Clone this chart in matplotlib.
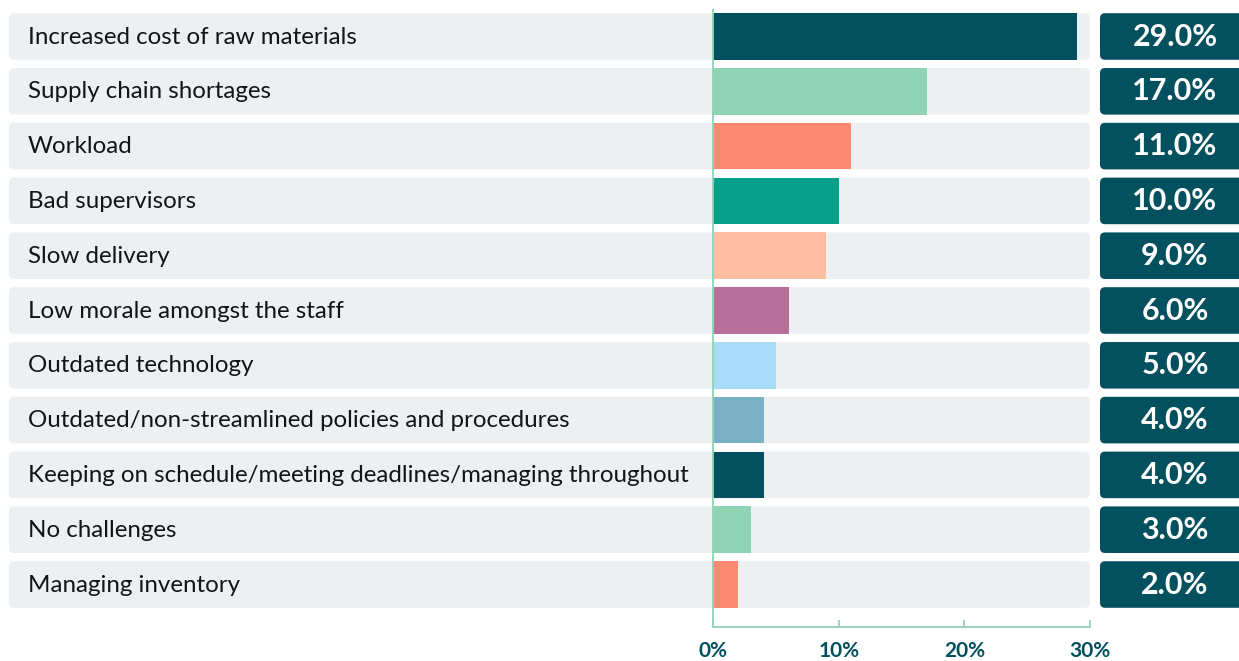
import matplotlib
matplotlib.use("Agg")
import matplotlib.pyplot as plt
from matplotlib.patches import FancyBboxPatch

categories = [
    "Increased cost of raw materials",
    "Supply chain shortages",
    "Workload",
    "Bad supervisors",
    "Slow delivery",
    "Low morale amongst the staff",
    "Outdated technology",
    "Outdated/non-streamlined policies and procedures",
    "Keeping on schedule/meeting deadlines/managing throughout",
    "No challenges",
    "Managing inventory",
]
values = [29.0, 17.0, 11.0, 10.0, 9.0, 6.0, 5.0, 4.0, 4.0, 3.0, 2.0]
bar_colors = ["#03505f", "#91d3b5", "#ff8a72", "#07a08a", "#ffbfa0", "#b56f98",
              "#a8dcf8", "#7cb0c6", "#03505f", "#91d3b5", "#ff8a72"]
xticks = [0, 10, 20, 30]
xticklabels = ["0%", "10%", "20%", "30%"]

DARK = "#03505f"
MINT = "#91d3b5"
ROW_BG = "#edf0f3"

W, H = 1239, 661
px_per_unit = (1090 - 713.3) / 30
row_px = 54.8
row_top = 36.5

fig = plt.figure(figsize=(W / 100, H / 100), dpi=100)
ax = fig.add_axes([0, 0, 1, 1])
ax.set_xlim(-713.3 / px_per_unit, (W - 713.3) / px_per_unit)
ax.set_ylim((H - row_top) / row_px, -row_top / row_px)

bar_h = 0.85
# aspect to keep rounded corners circular
asp = px_per_unit / row_px
rad = 5 / px_per_unit
bg_left = (9 - 713.3) / px_per_unit
box_left = (1100 - 713.3) / px_per_unit
box_mid = (1175 - 713.3) / px_per_unit
label_x = (28 - 713.3) / px_per_unit

for i, (cat, val) in enumerate(zip(categories, values)):
    ax.add_patch(FancyBboxPatch((bg_left, i - bar_h / 2), 30 - bg_left, bar_h,
                                boxstyle=f"round,pad=0,rounding_size={rad}",
                                mutation_aspect=asp, fc=ROW_BG, ec="none", zorder=0))
    ax.add_patch(FancyBboxPatch((box_left, i - bar_h / 2), 20, bar_h,
                                boxstyle=f"round,pad=0,rounding_size={rad}",
                                mutation_aspect=asp, fc=DARK, ec="none", zorder=0))
    ax.text(label_x, i + 0.01, cat, ha="left", va="center", fontsize=17.4,
            family="Lato", color="#141414")
    ax.text(box_mid, i + 0.0, f"{val:.1f}%", ha="center", va="center",
            fontsize=22, family="Lato", fontweight="bold", color="white")

ax.barh(range(len(values)), values, height=bar_h, color=bar_colors, zorder=2)

axis_y = (627 - row_top) / row_px
ax.vlines(0, (9 - row_top) / row_px, axis_y, color=MINT, lw=1.3, zorder=3)

for s in ["top", "right", "left"]:
    ax.spines[s].set_visible(False)
ax.spines["bottom"].set_position(("data", axis_y))
ax.spines["bottom"].set_bounds(0, 30)
ax.spines["bottom"].set_color(MINT)
ax.spines["bottom"].set_linewidth(1.3)
ax.set_xticks(xticks)
ax.set_xticklabels(xticklabels, family="Lato", fontweight="bold", fontsize=15, color=DARK)
ax.tick_params(axis="x", direction="in", length=5, width=1.3, color=MINT, pad=10)
ax.set_yticks([])

fig.savefig("out.png", dpi=100)
